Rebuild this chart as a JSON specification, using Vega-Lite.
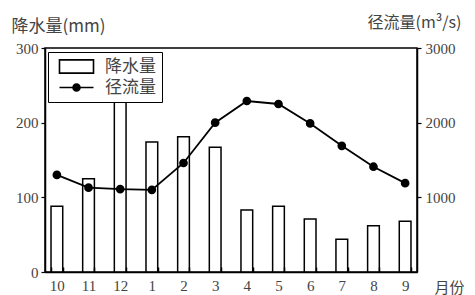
{
  "$schema": "https://vega.github.io/schema/vega-lite/v6.json",
  "width": 372,
  "height": 224,
  "autosize": {"type": "none"},
  "padding": {"left": 45, "top": 48, "right": 58, "bottom": 23},
  "background": "white",
  "data": {
    "values": [
      {"month": "10", "precip": 88, "runoff": 1300},
      {"month": "11", "precip": 125, "runoff": 1130},
      {"month": "12", "precip": 234, "runoff": 1110},
      {"month": "1", "precip": 174, "runoff": 1100},
      {"month": "2", "precip": 181, "runoff": 1460},
      {"month": "3", "precip": 167, "runoff": 2000},
      {"month": "4", "precip": 83, "runoff": 2290},
      {"month": "5", "precip": 88, "runoff": 2250},
      {"month": "6", "precip": 71, "runoff": 1990},
      {"month": "7", "precip": 44, "runoff": 1690},
      {"month": "8", "precip": 62, "runoff": 1410},
      {"month": "9", "precip": 68, "runoff": 1190}
    ]
  },
  "encoding": {
    "x": {
      "field": "month",
      "type": "ordinal",
      "sort": null,
      "scale": {"paddingInner": 0.63, "paddingOuter": 0.19},
      "axis": {
        "title": "月份",
        "labelAngle": 0,
        "ticks": true,
        "tickBand": "extent",
        "tickSize": -5,
        "tickWidth": 1.5,
        "tickColor": "black",
        "zindex": 1,
        "domainColor": "black",
        "domainWidth": 1.5,
        "labelPadding": 11,
        "labelFont": "Liberation Serif",
        "labelFontSize": 15,
        "labelColor": "#444",
        "titleX": 404,
        "titleY": 15,
        "titleAlign": "center",
        "titleBaseline": "middle",
        "titleFont": "Noto Sans CJK SC",
        "titleFontSize": 15,
        "titleFontWeight": "normal",
        "titleColor": "#444"
      }
    }
  },
  "layer": [
    {
      "mark": {"type": "bar", "fill": "white", "strokeWidth": 1.5},
      "encoding": {
        "y": {
          "field": "precip",
          "type": "quantitative",
          "scale": {"domain": [0, 300], "nice": false},
          "axis": {
            "values": [0, 100, 200, 300],
            "title": "降水量(mm)",
            "titleAngle": 0,
            "titleX": -34,
            "titleY": -22,
            "titleAlign": "left",
            "titleBaseline": "middle",
            "titleFont": "Noto Sans CJK SC",
            "titleFontSize": 17,
            "titleFontWeight": "normal",
            "titleColor": "#444",
            "grid": false,
            "tickSize": 4,
            "tickColor": "black",
            "tickWidth": 1.2,
            "labelPadding": 3,
            "domainColor": "black",
            "domainWidth": 1.5,
            "labelFont": "Liberation Serif",
            "labelFontSize": 15,
            "labelColor": "#444"
          }
        },
        "stroke": {
          "datum": "降水量",
          "scale": {"domain": ["降水量", "径流量"], "range": ["black", "black"]},
          "legend": {
            "title": null,
            "orient": "none",
            "legendX": 3,
            "legendY": 4,
            "strokeColor": "black",
            "fillColor": "white",
            "padding": 6,
            "symbolOffset": 14,
            "labelOffset": 20,
            "rowPadding": 1,
            "symbolSize": 196,
            "symbolStrokeWidth": 1.5,
            "labelFont": "Noto Sans CJK SC",
            "labelFontSize": 17,
            "labelColor": "#444",
            "encode": {
              "symbols": {
                "update": {
                  "shape": [
                    {"test": "datum.value === '降水量'", "value": "M-2.43,-0.95H2.43V0.95H-2.43Z"},
                    {"value": "M-2.43,0H2.43M0.5,0A0.5,0.5 0 1,1 -0.5,0A0.5,0.5 0 1,1 0.5,0"}
                  ],
                  "fill": [
                    {"test": "datum.value === '降水量'", "value": "white"},
                    {"value": "black"}
                  ],
                  "stroke": {"value": "black"},
                  "strokeWidth": {"value": 1.6}
                }
              }
            }
          }
        }
      }
    },
    {
      "mark": {
        "type": "line",
        "strokeWidth": 1.8,
        "point": {"filled": true, "size": 45, "color": "black"}
      },
      "encoding": {
        "y": {
          "field": "runoff",
          "type": "quantitative",
          "scale": {"domain": [0, 3000], "nice": false},
          "axis": {
            "orient": "right",
            "values": [1000, 2000, 3000],
            "format": "d",
            "title": "径流量(m³/s)",
            "titleAngle": 0,
            "titleX": -50,
            "titleY": -26,
            "titleAlign": "left",
            "titleBaseline": "middle",
            "titleFont": "Noto Sans CJK SC",
            "titleFontSize": 16,
            "titleFontWeight": "normal",
            "titleColor": "#444",
            "grid": false,
            "tickSize": 4,
            "tickColor": "black",
            "tickWidth": 1.2,
            "labelPadding": 4,
            "domainColor": "black",
            "domainWidth": 1.5,
            "labelFont": "Liberation Serif",
            "labelFontSize": 15,
            "labelColor": "#444"
          }
        },
        "stroke": {
          "datum": "径流量",
          "legend": {
            "title": null,
            "orient": "none",
            "legendX": 3,
            "legendY": 4,
            "strokeColor": "black",
            "fillColor": "white",
            "padding": 6,
            "symbolOffset": 14,
            "labelOffset": 20,
            "rowPadding": 1,
            "symbolSize": 196,
            "symbolStrokeWidth": 1.5,
            "labelFont": "Noto Sans CJK SC",
            "labelFontSize": 17,
            "labelColor": "#444",
            "encode": {
              "symbols": {
                "update": {
                  "shape": [
                    {"test": "datum.value === '降水量'", "value": "M-2.43,-0.95H2.43V0.95H-2.43Z"},
                    {"value": "M-2.43,0H2.43M0.5,0A0.5,0.5 0 1,1 -0.5,0A0.5,0.5 0 1,1 0.5,0"}
                  ],
                  "fill": [
                    {"test": "datum.value === '降水量'", "value": "white"},
                    {"value": "black"}
                  ],
                  "stroke": {"value": "black"},
                  "strokeWidth": {"value": 1.6}
                }
              }
            }
          }
        }
      }
    }
  ],
  "resolve": {"scale": {"y": "independent"}},
  "config": {
    "view": {"stroke": "black", "strokeWidth": 1.5}
  }
}
